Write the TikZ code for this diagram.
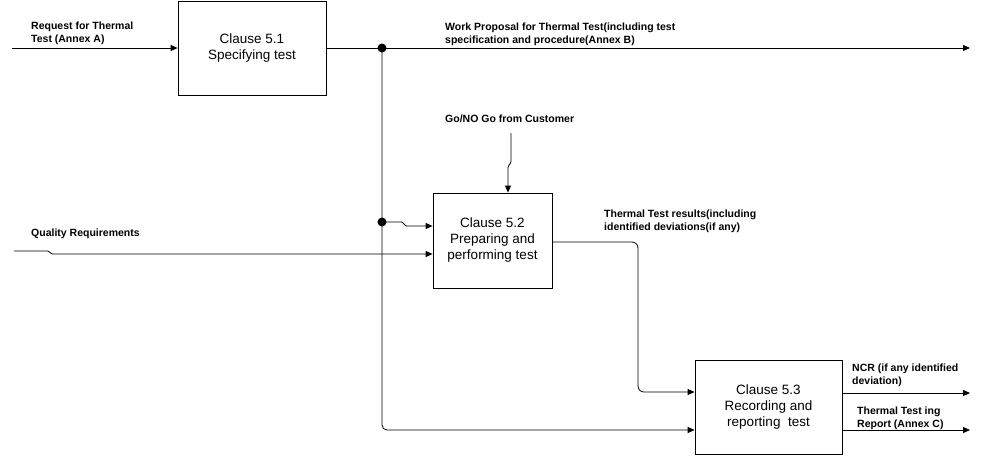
\documentclass[tikz,border=0pt]{standalone}
\usepackage{fontspec}
\setmainfont{Liberation Sans}
\usetikzlibrary{arrows.meta}
\begin{document}
\begin{tikzpicture}[x=1pt,y=-1pt,
  proc/.style={draw,line width=0.8pt,minimum width=#1,align=center,inner sep=0pt,font=\fontsize{13.5}{16}\selectfont},
  lbl/.style={anchor=west,align=left,inner sep=0pt,font=\bfseries\fontsize{10.5}{13}\selectfont},
  arr/.style={line width=0.8pt,-{Triangle[length=7pt,width=6pt]}},
  dotc/.style={circle,fill,inner sep=0pt,minimum size=9pt}]
\useasboundingbox (0,0) rectangle (983,456);
\node[proc=148pt,minimum height=94pt] (box1) at (252,48) {Clause 5.1\\Specifying test};
\node[proc=119pt,minimum height=95pt] (box2) at (492.5,240.5) {Clause 5.2\\Preparing and\\performing test};
\node[proc=147pt,minimum height=94pt] (box3) at (768.5,407) {Clause 5.3\\Recording and\\reporting\ \ test};
\node[dotc] (d1) at (382,48) {};
\node[dotc] (d2) at (382,222) {};
\coordinate (in1) at (12,48);
\coordinate (out1) at (970,48);
\coordinate (inq) at (14,251);
\coordinate (go) at (511,133);
\coordinate (ncr) at (970,393);
\coordinate (rep) at (970,430);
% connectors
\draw[arr] (in1) -- (box1.west);
\draw[arr] (box1.east) -- (out1);
\draw[arr,rounded corners=5pt] (d1.center) -- (382,430) -- (box3.west |- 0,430);
\draw[arr,rounded corners=1.5pt] (d2.center) -- (403,222) -- (405,226) -- (box2.west |- 0,226);
\draw[arr,rounded corners=1.5pt] (inq) -- (49,251) -- (51,254) -- (box2.west |- 0,254);
\draw[arr,rounded corners=1.5pt] (go) -- (511,163) -- (508,166) -- (box2.north -| 508,0);
\draw[arr,rounded corners=6pt] (box2.east |- 0,242) -- (638,242) -- (638,392) -- (box3.west |- 0,392);
\draw[arr] (box3.east |- 0,393) -- (ncr);
\draw[arr] (box3.east |- 0,430) -- (rep);
% labels
\node[lbl] (l1) at (31,33) {Request for Thermal\\Test (Annex A)};
\node[lbl] (l2) at (445,34) {Work Proposal for Thermal Test(including test\\specification and procedure(Annex B)};
\node[lbl] (l3) at (445,119) {Go/NO Go from Customer};
\node[lbl] (l4) at (31,234) {Quality Requirements};
\node[lbl] (l5) at (604,221) {Thermal Test results(including\\identified deviations(if any)};
\node[lbl] (l6) at (852,375.5) {NCR (if any identified\\deviation)};
\node[lbl] (l7) at (857,418.5) {Thermal Test ing\\Report (Annex C)};
\end{tikzpicture}
\end{document}
